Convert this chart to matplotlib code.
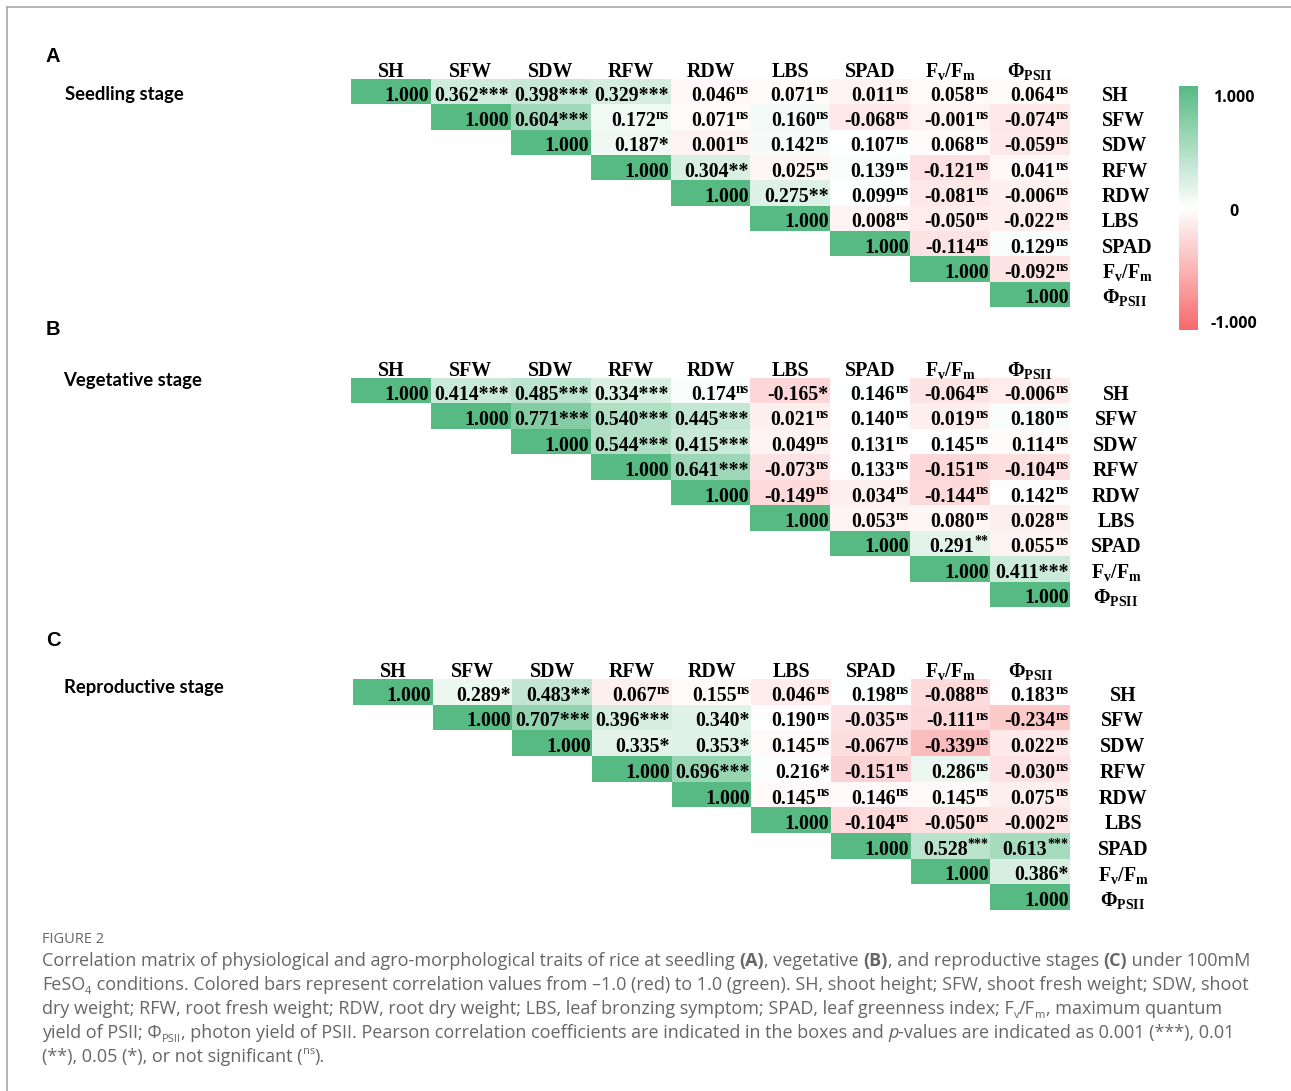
import matplotlib
matplotlib.use('Agg')
import matplotlib.pyplot as plt
import numpy as np
from matplotlib.colors import LinearSegmentedColormap, TwoSlopeNorm, Normalize
from matplotlib.cm import ScalarMappable
from matplotlib.lines import Line2D
from matplotlib.font_manager import FontProperties

plt.rcParams['mathtext.fontset'] = 'custom'
plt.rcParams['mathtext.rm'] = 'Liberation Serif:bold'
plt.rcParams['mathtext.it'] = 'Liberation Serif:bold'
plt.rcParams['mathtext.bf'] = 'Liberation Serif:bold'
plt.rcParams['mathtext.default'] = 'rm'

# ---------------- data ----------------
traits = ['SH', 'SFW', 'SDW', 'RFW', 'RDW', 'LBS', 'SPAD',
          r'F$_{\mathrm{v}}$/F$_{\mathrm{m}}$', r'Φ$_{\mathrm{PSII}}$']

# upper triangle (values right of the diagonal), row by row
seedling_vals = [
    [0.362, 0.398, 0.329, 0.046, 0.071, 0.011, 0.058, 0.064],
    [0.604, 0.172, 0.071, 0.160, -0.068, -0.001, -0.074],
    [0.187, 0.001, 0.142, 0.107, 0.068, -0.059],
    [0.304, 0.025, 0.139, -0.121, 0.041],
    [0.275, 0.099, -0.081, -0.006],
    [0.008, -0.050, -0.022],
    [-0.114, 0.129],
    [-0.092],
]
seedling_sig = [
    ['***', '***', '***', 'ns', 'ns', 'ns', 'ns', 'ns'],
    ['***', 'ns', 'ns', 'ns', 'ns', 'ns', 'ns'],
    ['*', 'ns', 'ns', 'ns', 'ns', 'ns'],
    ['**', 'ns', 'ns', 'ns', 'ns'],
    ['**', 'ns', 'ns', 'ns'],
    ['ns', 'ns', 'ns'],
    ['ns', 'ns'],
    ['ns'],
]
vegetative_vals = [
    [0.414, 0.485, 0.334, 0.174, -0.165, 0.146, -0.064, -0.006],
    [0.771, 0.540, 0.445, 0.021, 0.140, 0.019, 0.180],
    [0.544, 0.415, 0.049, 0.131, 0.145, 0.114],
    [0.641, -0.073, 0.133, -0.151, -0.104],
    [-0.149, 0.034, -0.144, 0.142],
    [0.053, 0.080, 0.028],
    [0.291, 0.055],
    [0.411],
]
vegetative_sig = [
    ['***', '***', '***', 'ns', '*', 'ns', 'ns', 'ns'],
    ['***', '***', '***', 'ns', 'ns', 'ns', 'ns'],
    ['***', '***', 'ns', 'ns', 'ns', 'ns'],
    ['***', 'ns', 'ns', 'ns', 'ns'],
    ['ns', 'ns', 'ns', 'ns'],
    ['ns', 'ns', 'ns'],
    ['^**', 'ns'],
    ['***'],
]
reproductive_vals = [
    [0.289, 0.483, 0.067, 0.155, 0.046, 0.198, -0.088, 0.183],
    [0.707, 0.396, 0.340, 0.190, -0.035, -0.111, -0.234],
    [0.335, 0.353, 0.145, -0.067, -0.339, 0.022],
    [0.696, 0.216, -0.151, 0.286, -0.030],
    [0.145, 0.146, 0.145, 0.075],
    [-0.104, -0.050, -0.002],
    [0.528, 0.613],
    [0.386],
]
reproductive_sig = [
    ['*', '**', 'ns', 'ns', 'ns', 'ns', 'ns', 'ns'],
    ['***', '***', '*', 'ns', 'ns', 'ns', 'ns'],
    ['*', '*', 'ns', 'ns', 'ns', 'ns'],
    ['***', '*', 'ns', 'ns', 'ns'],
    ['ns', 'ns', 'ns', 'ns'],
    ['ns', 'ns', 'ns'],
    ['^***', '^***'],
    ['*'],
]
cbar_labels = ['1.000', '0', '-1.000']

# ---------------- figure ----------------
W, H = 1291, 1091
fig = plt.figure(figsize=(W / 100, H / 100), dpi=100)
renderer = fig.canvas.get_renderer()


def fx(px):
    return px / W


def fy(py):
    return 1 - py / H


GREEN = '#57BA83'
RED = '#F66A6C'
cmap = LinearSegmentedColormap.from_list('rwg', [RED, '#FFFFFF', GREEN])

SERIF = 'Liberation Serif'
CELL_FS = 14.3
SUP_FS = 10.0
cell_fp = FontProperties(family=SERIF, weight='bold', size=CELL_FS)
sup_fp = FontProperties(family=SERIF, weight='bold', size=SUP_FS)


def build(vals):
    n = len(traits)
    M = np.full((n, n), np.nan)
    for i in range(n):
        M[i, i] = 1.0
        if i < len(vals):
            for k, v in enumerate(vals[i]):
                M[i, i + 1 + k] = v
    return M


def build_sig(sigs):
    n = len(traits)
    S = [['' for _ in range(n)] for _ in range(n)]
    for i in range(len(sigs)):
        for k, s in enumerate(sigs[i]):
            S[i][i + 1 + k] = s
    return S


def text_width(s, fp):
    t = fig.text(0, 0, '|' + s + '|', fontproperties=fp)
    w1 = t.get_window_extent(renderer).width
    t.set_text('||')
    w2 = t.get_window_extent(renderer).width
    t.remove()
    return w1 - w2


panels = [
    dict(letter='A', stage='Seedling stage', vals=seedling_vals, sigs=seedling_sig,
         grid=(351, 1070, 79, 307), letter_xy=(45, 62), stage_xy=(65, 100),
         rowlab=('left', 1102)),
    dict(letter='B', stage='Vegetative stage', vals=vegetative_vals, sigs=vegetative_sig,
         grid=(351, 1070, 378, 607), letter_xy=(46, 335), stage_xy=(63, 386),
         rowlab=('center', 1116)),
    dict(letter='C', stage='Reproductive stage', vals=reproductive_vals, sigs=reproductive_sig,
         grid=(353, 1070, 679, 910), letter_xy=(46, 646), stage_xy=(64, 693),
         rowlab=('center', 1123)),
]

# stage label font size fitted to reference width
STAGE_FAMILY = 'Lato'
stage_fp = FontProperties(family=STAGE_FAMILY, weight='bold', size=12)
stage_size = 12 * 118 / text_width('Seedling stage', stage_fp)
stage_fp = FontProperties(family=STAGE_FAMILY, weight='bold', size=stage_size)

sup_w_cache = {}

n = len(traits)
for p in panels:
    x0, x1, y0, y1 = p['grid']
    ax = fig.add_axes([fx(x0), fy(y1), (x1 - x0) / W, (y1 - y0) / H])
    M = build(p['vals'])
    S = build_sig(p['sigs'])
    center = float(np.nanmedian(M))
    norm = TwoSlopeNorm(vmin=-1, vcenter=center, vmax=1)
    ax.pcolormesh(np.arange(n + 1), np.arange(n + 1), np.ma.masked_invalid(M),
                  cmap=cmap, norm=norm, edgecolors='none', antialiased=False)
    ax.set_xlim(0, n)
    ax.set_ylim(n, 0)
    ax.axis('off')
    col_px = (x1 - x0) / n
    row_px = (y1 - y0) / n
    pad = 1.5 / col_px
    base_off = 0.5 + 9.0 / row_px
    sup_off = 7.0 / row_px
    for i in range(n):
        for j in range(i, n):
            s = S[i][j]
            main = f"{M[i, j]:.3f}"
            xr = j + 1 - pad
            if s == 'ns' or s.startswith('^'):
                sup = 'ns' if s == 'ns' else s[1:]
                if sup not in sup_w_cache:
                    sup_w_cache[sup] = text_width(sup, sup_fp)
                sw = sup_w_cache[sup] / col_px
                ax.text(xr, i + base_off - sup_off, sup, ha='right', va='baseline',
                        fontproperties=sup_fp, color='black', clip_on=False)
                ax.text(xr - sw - 0.3 / col_px, i + base_off, main, ha='right',
                        va='baseline', fontproperties=cell_fp, color='black',
                        clip_on=False)
            else:
                ax.text(xr, i + base_off, main + s, ha='right', va='baseline',
                        fontproperties=cell_fp, color='black', clip_on=False)
    # column headers
    for j, name in enumerate(traits):
        ax.text(j + 0.5, -2.0 / row_px, name, ha='center', va='baseline',
                fontproperties=cell_fp, color='black', clip_on=False)
    # row labels
    align, xpx = p['rowlab']
    xr = (xpx - x0) / col_px
    for i, name in enumerate(traits):
        ax.text(xr, i + base_off, name, ha=align, va='baseline',
                fontproperties=cell_fp, color='black', clip_on=False)
    # panel letter & stage label
    lx, ly = p['letter_xy']
    fig.text(fx(lx), fy(ly), p['letter'], ha='left', va='baseline',
             family='Liberation Sans', weight='bold', fontsize=14.5, color='black')
    sx, sy = p['stage_xy']
    fig.text(fx(sx), fy(sy), p['stage'], ha='left', va='baseline',
             fontproperties=stage_fp, color='black')

# colour bar
cax = fig.add_axes([fx(1179), fy(330), 19 / W, (330 - 86) / H])
sm = ScalarMappable(norm=Normalize(-1, 1), cmap=cmap)
cb = fig.colorbar(sm, cax=cax)
cb.outline.set_visible(False)
cb.set_ticks([])
for lab, ypx in zip(cbar_labels, [102, 216, 328]):
    fig.text(fx(1234), fy(ypx), lab, ha='center', va='baseline',
             family='Open Sans', weight='bold', fontsize=11.5, color='black')

# frame lines
fig.add_artist(Line2D([fx(7), 1], [fy(7), fy(7)], color='#a8a8a8', lw=1.2,
                      transform=fig.transFigure))
fig.add_artist(Line2D([fx(7), fx(7)], [fy(7), 0], color='#a8a8a8', lw=1.2,
                      transform=fig.transFigure))

# caption
CAP_COLOR = '#666666'
CAP_FAMILY = 'Open Sans'


def cap_fp(kind, size):
    if kind == 'b':
        return FontProperties(family=CAP_FAMILY, weight='bold', size=size)
    if kind == 'i':
        return FontProperties(family=CAP_FAMILY, style='italic', size=size)
    if kind in ('sub', 'sup'):
        return FontProperties(family=CAP_FAMILY, size=size * 0.62)
    return FontProperties(family=CAP_FAMILY, size=size)


def runs_width(runs, size):
    return sum(text_width(s, cap_fp(k, size)) for s, k in runs)


def draw_runs(runs, xpx, base_px, size):
    x = xpx
    spx = size * 100 / 72
    for s, k in runs:
        fp = cap_fp(k, size)
        b = base_px
        if k == 'sub':
            b = base_px + 0.22 * spx
        elif k == 'sup':
            b = base_px - 0.42 * spx
        fig.text(fx(x), fy(b), s, ha='left', va='baseline', fontproperties=fp,
                 color=CAP_COLOR)
        x += text_width(s, fp)


cap_lines = [
    [("Correlation matrix of physiological and agro-morphological traits of rice at seedling ", 'n'),
     ("(A)", 'b'), (", vegetative ", 'n'), ("(B)", 'b'), (", and reproductive stages ", 'n'),
     ("(C)", 'b'), (" under 100mM", 'n')],
    [("FeSO", 'n'), ("4", 'sub'),
     (" conditions. Colored bars represent correlation values from –1.0 (red) to 1.0 (green). SH, shoot height; SFW, shoot fresh weight; SDW, shoot", 'n')],
    [("dry weight; RFW, root fresh weight; RDW, root dry weight; LBS, leaf bronzing symptom; SPAD, leaf greenness index; F", 'n'),
     ("v", 'sub'), ("/F", 'n'), ("m", 'sub'), (", maximum quantum", 'n')],
    [("yield of PSII; Φ", 'n'), ("PSII", 'sub'),
     (", photon yield of PSII. Pearson correlation coefficients are indicated in the boxes and ", 'n'),
     ("p", 'i'), ("-values are indicated as 0.001 (***), 0.01", 'n')],
    [("(**), 0.05 (*), or not significant (", 'n'), ("ns", 'sup'), (").", 'n')],
]
cap_size = 12 * 1204 / runs_width(cap_lines[0], 12)
for line, base in zip(cap_lines, [966, 990, 1014, 1038, 1062]):
    draw_runs(line, 42, base, cap_size)

fig_fp = FontProperties(family=CAP_FAMILY, size=10)
fig_size = 10 * 62 / text_width("FIGURE 2", fig_fp)
fig.text(fx(42), fy(943), "FIGURE 2", ha='left', va='baseline',
         family=CAP_FAMILY, fontsize=fig_size, color=CAP_COLOR)

fig.savefig('out.png', dpi=100)
